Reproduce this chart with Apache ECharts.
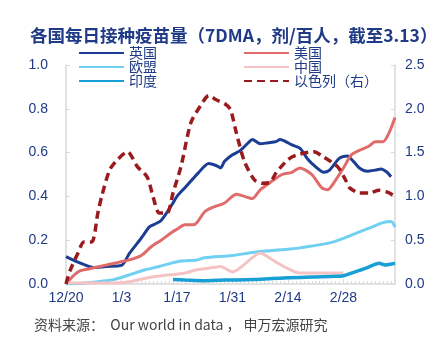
<!DOCTYPE html>
<html>
<head>
<meta charset="utf-8">
<script src="https://cdn.jsdelivr.net/npm/echarts@6/dist/echarts.min.js"></script>
<style>
  html, body { margin: 0; padding: 0; background: #fff; }
  #chart { width: 440px; height: 337px; }
</style>
</head>
<body>
<div id="chart"></div>
<script>
// x positions are day offsets from 12/20; tick labels every 14 days
const tickLabels = ['12/20', '1/3', '1/17', '1/31', '2/14', '2/28'];
const lastDay = 83; // 3/13

// Doses per 100 people, 7-day moving average: [day, value]
const uk = [
  [0, 0.125], [3, 0.10], [7, 0.075], [10, 0.08], [14, 0.085], [16, 0.14], [19, 0.21],
  [21, 0.26], [22, 0.27], [24, 0.29], [27, 0.37], [28, 0.40], [30, 0.44], [32, 0.48],
  [33.5, 0.51], [36, 0.55], [38, 0.54], [39, 0.53], [40, 0.56], [42, 0.59], [44, 0.61],
  [46, 0.645], [47, 0.66], [49, 0.64], [51, 0.645], [53, 0.65], [54, 0.66], [57, 0.635],
  [59, 0.62], [61, 0.57], [63, 0.535], [65, 0.51], [66.5, 0.52], [69, 0.575], [71, 0.585],
  [72.5, 0.56], [74, 0.53], [76, 0.515], [78, 0.52], [79.5, 0.525], [81, 0.51], [82, 0.49]
];
const us = [
  [0, 0.0], [2, 0.04], [3.5, 0.06], [6, 0.07], [8.5, 0.08], [11, 0.09], [13.5, 0.10],
  [16, 0.11], [19, 0.13], [21.5, 0.17], [24, 0.20], [27, 0.24], [28, 0.25], [30, 0.27],
  [32, 0.27], [33, 0.28], [35, 0.33], [37, 0.35], [40, 0.37], [43, 0.41], [45, 0.40],
  [47, 0.39], [49, 0.43], [52, 0.47], [54.5, 0.50], [57, 0.51], [59, 0.53], [62, 0.50],
  [64.5, 0.44], [66, 0.43], [67.5, 0.46], [70, 0.53], [72, 0.59], [74, 0.61], [76.5, 0.63],
  [78, 0.65], [80, 0.65], [81.5, 0.69], [83, 0.76]
];
const eu = [
  [0, 0.0], [5, 0.005], [8, 0.01], [10, 0.015], [12, 0.02], [14, 0.03], [16.5, 0.045],
  [20, 0.065], [23.5, 0.08], [26.5, 0.095], [29, 0.105], [33, 0.11], [35, 0.12], [42, 0.13],
  [47.5, 0.145], [56.5, 0.16], [59, 0.165], [67, 0.19], [73, 0.23], [76.5, 0.255],
  [80, 0.28], [82, 0.285], [83, 0.26]
];
const china = [
  [0, 0.005], [13, 0.005], [16, 0.01], [21, 0.03], [25, 0.04], [28, 0.045], [30, 0.05],
  [33, 0.065], [37, 0.075], [39, 0.08], [42, 0.055], [49, 0.14], [53, 0.10], [56, 0.07],
  [59, 0.05], [70, 0.05]
];
const india = [
  [27, 0.02], [30, 0.018], [35, 0.015], [40, 0.018], [47, 0.02], [52, 0.025], [56, 0.028],
  [62, 0.032], [68, 0.035], [70, 0.038], [72, 0.05], [74, 0.062], [76, 0.075], [79, 0.095],
  [80.5, 0.087], [83, 0.095]
];
// Israel, right axis
const israel = [
  [0, 0.0], [1, 0.15], [3, 0.35], [4.5, 0.48], [6.5, 0.48], [8, 0.8], [9, 1.0], [11, 1.30],
  [13, 1.42], [15.5, 1.51], [18, 1.34], [20.5, 1.22], [22, 0.99], [23.5, 0.81], [25.5, 0.81],
  [27, 1.04], [29, 1.34], [31.5, 1.84], [34, 2.04], [36, 2.15], [38, 2.10], [40, 2.06],
  [41.5, 1.99], [43, 1.72], [45, 1.40], [47.5, 1.19], [49.5, 1.15], [51.5, 1.16], [53, 1.27],
  [56, 1.42], [58, 1.47], [62.5, 1.51], [65, 1.45], [68.5, 1.34], [70.5, 1.19], [71.5, 1.10],
  [74, 1.04], [76.5, 1.04], [79, 1.07], [81.5, 1.04], [83, 1.00]
];

const navy = '#1f3a86';
const axisGray = '#d9d9d9';

function line(name, data, color, width, extra) {
  return Object.assign({
    name: name,
    type: 'line',
    data: data,
    symbol: 'none',
    smooth: 0.25,
    lineStyle: { color: color, width: width },
    itemStyle: { color: color },
    emphasis: { disabled: true }
  }, extra || {});
}

const legendText = { color: navy, fontSize: 14, lineHeight: 14, fontFamily: 'Noto Sans CJK SC' };
const legendBase = {
  orient: 'vertical', top: 46, itemWidth: 45, itemHeight: 14, itemGap: 0,
  textStyle: legendText, padding: 0,
  itemStyle: { opacity: 0 }
};

const chart = echarts.init(document.getElementById('chart'), null, { renderer: 'canvas' });
chart.setOption({
  animation: false,
  title: {
    text: '各国每日接种疫苗量（7DMA，剂/百人，截至3.13）',
    left: 25,
    top: 22,
    textStyle: { color: navy, fontSize: 17.5, fontWeight: 'bold', fontFamily: 'Noto Sans CJK SC' }
  },
  legend: [
    Object.assign({ data: ['英国', '欧盟', '印度'], left: 78 }, legendBase),
    Object.assign({ data: ['美国', '中国', '以色列（右）'], left: 243 }, legendBase)
  ],
  grid: { left: 66, right: 45, top: 65, bottom: 53 },
  xAxis: {
    type: 'value',
    min: 0,
    max: lastDay,
    interval: 14,
    axisLine: { lineStyle: { color: axisGray, width: 1.5 } },
    axisTick: { show: true, inside: true, length: 5, lineStyle: { color: axisGray } },
    minorTick: { show: true, splitNumber: 14, length: 3, lineStyle: { color: axisGray } },
    splitLine: { show: false },
    axisLabel: {
      color: navy, fontSize: 14, margin: 7, fontFamily: 'Liberation Sans',
      showMaxLabel: false,
      formatter: function (v) { return tickLabels[Math.round(v / 14)] || ''; }
    }
  },
  yAxis: [
    {
      type: 'value', min: 0, max: 1, interval: 0.2,
      axisLine: { show: true, lineStyle: { color: axisGray, width: 1.5 } },
      axisTick: { show: true, inside: true, length: 4, lineStyle: { color: axisGray } },
      splitLine: { show: false },
      axisLabel: { color: navy, fontSize: 14, margin: 18, fontFamily: 'Liberation Sans',
        formatter: function (v) { return v.toFixed(1); } }
    },
    {
      type: 'value', min: 0, max: 2.5, interval: 0.5, position: 'right',
      axisLine: { show: true, lineStyle: { color: axisGray, width: 1.5 } },
      axisTick: { show: true, inside: true, length: 4, lineStyle: { color: axisGray } },
      splitLine: { show: false },
      axisLabel: { color: navy, fontSize: 14, margin: 10, fontFamily: 'Liberation Sans',
        formatter: function (v) { return v.toFixed(1); } }
    }
  ],
  series: [
    line('英国', uk, '#1b3d93', 3),
    line('美国', us, '#e06b6b', 3),
    line('欧盟', eu, '#6fd0f2', 3),
    line('中国', china, '#f6c3c5', 3),
    line('印度', india, '#179fd6', 3.5),
    line('以色列（右）', israel, '#9a1b1e', 3.5, {
      yAxisIndex: 1,
      lineStyle: { color: '#9a1b1e', width: 3.5, type: [8, 5] }
    })
  ],
  graphic: [{
    type: 'text',
    left: 34,
    top: 318,
    style: {
      text: '资料来源：  Our world in data ， 申万宏源研究',
      fill: '#444',
      fontSize: 14,
      fontFamily: 'Noto Sans CJK SC'
    }
  }]
});
</script>
</body>
</html>
